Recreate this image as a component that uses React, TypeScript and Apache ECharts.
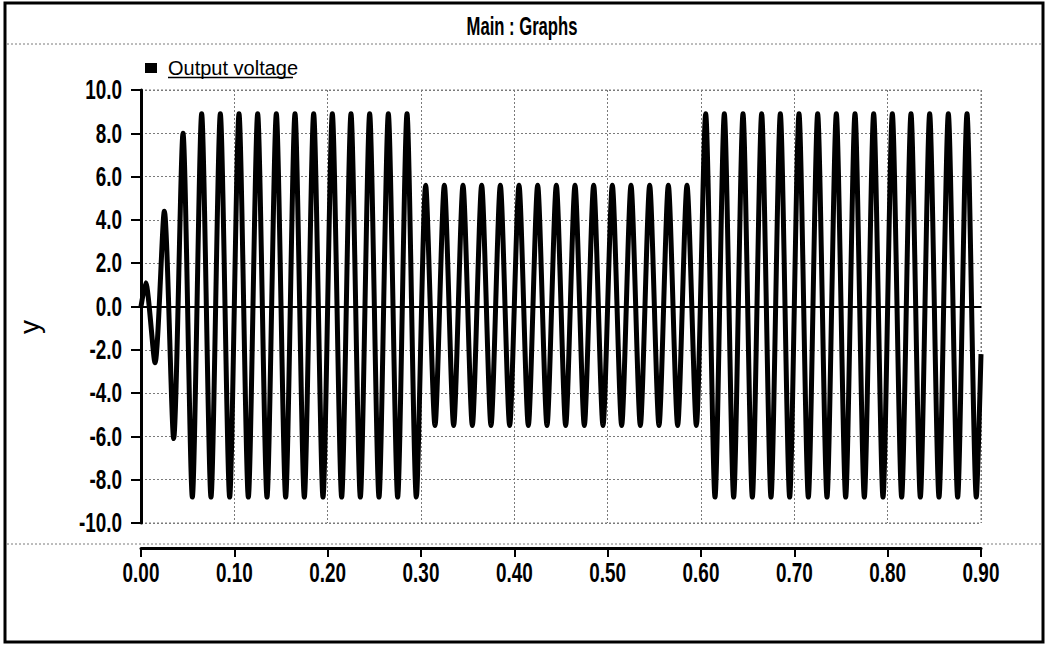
import React, { useEffect, useRef } from "react";
import * as echarts from "echarts";

const TITLE = "Main : Graphs";
const SERIES_NAME = "Output voltage";
const Y_NAME = "y";
const X_MIN = 0;
const X_MAX = 0.9;
const X_STEP = 0.1;
const Y_MIN = -10;
const Y_MAX = 10;
const Y_STEP = 2;

// Waveform extrema (one per half cycle, 50 Hz).
// Extremum k sits at t = 0.005 + 0.01 * k seconds.
const extremaValues: number[] = [
  1.1, -2.6, 4.4, -6.1, 8.0, -8.8, 8.9, -8.8, 8.9, -8.8,
  8.9, -8.8, 8.9, -8.8, 8.9, -8.8, 8.9, -8.8, 8.9, -8.8,
  8.9, -8.8, 8.9, -8.8, 8.9, -8.8, 8.9, -8.8, 8.9, -8.8,
  5.6, -5.5, 5.6, -5.5, 5.6, -5.5, 5.6, -5.5, 5.6, -5.5,
  5.6, -5.5, 5.6, -5.5, 5.6, -5.5, 5.6, -5.5, 5.6, -5.5,
  5.6, -5.5, 5.6, -5.5, 5.6, -5.5, 5.6, -5.5, 5.6, -5.5,
  8.9, -8.8, 8.9, -8.8, 8.9, -8.8, 8.9, -8.8, 8.9, -8.8,
  8.9, -8.8, 8.9, -8.8, 8.9, -8.8, 8.9, -8.8, 8.9, -8.8,
  8.9, -8.8, 8.9, -8.8, 8.9, -8.8, 8.9, -8.8, 8.9, -8.8,
];
const startPoint: [number, number] = [0, 0];
const endPoint: [number, number] = [0.9, -2.2];

const FONT = "'Liberation Sans', Arial, sans-serif";
const LABEL_CONDENSE = 0.7;

export default function App() {
  const ref = useRef<HTMLDivElement>(null);
  useEffect(() => {
    document.body.style.margin = "0";
    if (!ref.current) return;
    const chart = echarts.init(ref.current, undefined, { renderer: "svg" });
    const data: [number, number][] = [startPoint];
    extremaValues.forEach((v, k) => data.push([+(0.005 + 0.01 * k).toFixed(3), v]));
    data.push(endPoint);

    const gridLeft = 141;
    const gridRight = 981;
    const gridTop = 90;
    const gridBottom = 523;
    const dotted = { stroke: "#7a7a7a", lineWidth: 1, lineDash: [2, 2] };

    chart.setOption({
      animation: false,
      backgroundColor: "#ffffff",
      legend: {
        left: 145,
        top: 58,
        padding: 0,
        itemWidth: 12,
        itemHeight: 10,
        icon: "rect",
        data: [SERIES_NAME],
        textStyle: { fontFamily: FONT, fontSize: 20, color: "#000", padding: [0, 0, 0, 6] },
      },
      grid: {
        left: gridLeft,
        width: gridRight - gridLeft,
        top: gridTop,
        height: gridBottom - gridTop,
        show: false,
      },
      xAxis: {
        type: "value",
        min: X_MIN,
        max: X_MAX,
        interval: X_STEP,
        offset: 25,
        axisLine: { show: true, onZero: false, lineStyle: { color: "#000", width: 3 } },
        axisTick: { show: true, length: 9, lineStyle: { color: "#000", width: 2 } },
        axisLabel: {
          formatter: (v: number) => v.toFixed(2),
          fontFamily: FONT,
          fontSize: 27,
          fontWeight: "bold",
          color: "#000",
          margin: 11,
        },
        splitLine: { show: true, lineStyle: { color: "#7a7a7a", type: [2, 2], width: 1 } },
      },
      yAxis: {
        type: "value",
        min: Y_MIN,
        max: Y_MAX,
        interval: Y_STEP,
        axisLine: { show: true, onZero: false, lineStyle: { color: "#000", width: 3 } },
        axisTick: { show: true, length: 10, lineStyle: { color: "#000", width: 2 } },
        axisLabel: {
          formatter: (v: number) => v.toFixed(1),
          fontFamily: FONT,
          fontSize: 27,
          fontWeight: "bold",
          color: "#000",
          margin: 19,
        },
        splitLine: { show: true, lineStyle: { color: "#7a7a7a", type: [2, 2], width: 1 } },
      },
      series: [
        {
          name: SERIES_NAME,
          type: "line",
          data,
          showSymbol: false,
          smooth: 0.25,
          lineStyle: { color: "#000", width: 5 },
          itemStyle: { color: "#000" },
          markLine: {
            silent: true,
            symbol: "none",
            label: { show: false },
            lineStyle: { color: "#000", width: 2, type: "solid" },
            data: [{ yAxis: 0 }],
          },
          z: 3,
        },
      ],
      graphic: [
        { type: "rect", shape: { x: 5, y: 3, width: 1038, height: 639 }, style: { fill: "none", stroke: "#000", lineWidth: 3 }, silent: true },
        { type: "line", shape: { x1: 7, y1: 44, x2: 1041, y2: 44 }, style: dotted, silent: true },
        { type: "line", shape: { x1: 7, y1: 544, x2: 1041, y2: 544 }, style: dotted, silent: true },
        { type: "line", shape: { x1: gridLeft, y1: gridTop, x2: gridRight, y2: gridTop }, style: dotted, silent: true },
        { type: "line", shape: { x1: gridRight, y1: gridTop, x2: gridRight, y2: gridBottom }, style: dotted, silent: true },
        { type: "line", shape: { x1: gridLeft, y1: gridBottom, x2: gridRight, y2: gridBottom }, style: dotted, silent: true },
        { type: "line", shape: { x1: 168, y1: 77.5, x2: 293, y2: 77.5 }, style: { stroke: "#000", lineWidth: 1.5 }, silent: true },
        {
          type: "text",
          x: 522,
          y: 26,
          scaleX: 0.64,
          silent: true,
          style: { text: TITLE, fontFamily: FONT, fontSize: 26, fontWeight: "bold", fill: "#000", textAlign: "center", textVerticalAlign: "middle" },
        },
        {
          type: "text",
          x: 29,
          y: 327,
          rotation: Math.PI / 2,
          silent: true,
          style: { text: Y_NAME, fontFamily: FONT, fontSize: 28, fill: "#000", textAlign: "center", textVerticalAlign: "middle" },
        },
      ],
    });

    const condense = () => {
      const root = ref.current;
      if (!root) return;
      root.querySelectorAll("text").forEach((t) => {
        if (t.getAttribute("data-cond")) return;
        const txt = (t.textContent || "").trim();
        if (!/^-?\d+\.\d+$/.test(txt)) return;
        const x = parseFloat(t.getAttribute("x") || "0");
        const y = parseFloat(t.getAttribute("y") || "0");
        const base = t.getAttribute("transform") || "";
        t.setAttribute(
          "transform",
          `${base} translate(${x} ${y}) scale(${LABEL_CONDENSE} 1) translate(${-x} ${-y})`.trim()
        );
        t.setAttribute("data-cond", "1");
      });
    };
    condense();
    chart.on("finished", condense);
    const timer = window.setTimeout(condense, 50);

    return () => {
      window.clearTimeout(timer);
      chart.dispose();
    };
  }, []);
  return <div ref={ref} style={{ width: 1047, height: 645 }} />;
}
